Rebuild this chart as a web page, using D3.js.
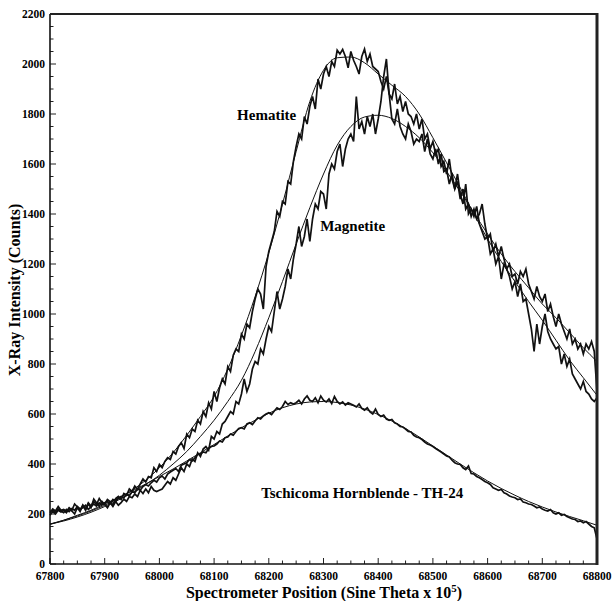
<!DOCTYPE html>
<html><head><meta charset="utf-8">
<script src="https://cdn.jsdelivr.net/npm/d3@7"></script>
<style>body{margin:0;background:#fff}svg{display:block}</style>
</head><body><svg id="c" width="612" height="601"></svg>
<script>
// Spectrometer positions: measured data every 5 units, fitted curves every 25 units
const dataStart = 67800, dataStep = 5;
const fitStart = 67800, fitStep = 25;

const hematiteData = [
205,220,212,230,215, 218,210,225,215,240, 228,215,235,220,245, 232,250,238,262,245,
240,258,250,235,262, 270,258,282,275,300, 290,312,298,320,340, 328,350,345,385,370,
398,385,410,425,418, 450,440,470,485,462, 520,505,540,530,575, 560,610,590,645,620,
690,650,705,740,720, 790,770,835,860,850, 920,900,960,945,1010, 1060,1100,1080,1020,1190,
1250,1290,1330,1410,1390, 1450,1440,1530,1520,1610, 1670,1720,1700,1790,1760, 1830,1870,1820,1940,1900,
1960,1990,1950,2010,1990, 2055,2040,2058,2030,1985, 2050,2015,1990,1960,2030, 2060,2010,2040,1990,1980,
1970,1930,1900,1950,1880, 1860,1920,1840,1870,1810, 1850,1800,1790,1760,1800, 1740,1780,1700,1720,1660,
1690,1640,1660,1590,1610, 1560,1620,1540,1500,1560, 1480,1440,1520,1400,1420, 1390,1430,1360,1330,1300,
1310,1240,1260,1200,1230, 1140,1200,1180,1150,1100, 1130,1070,1120,1050,1060, 1000,940,850,960,880,
950,1000,930,900,880, 860,870,800,840,790, 820,760,740,720,700, 730,690,680,660,650,
665];

const magnetiteData = [
195,210,200,215,208, 215,205,222,212,200, 225,210,235,215,240, 225,260,245,232,250,
238,225,245,230,250, 235,245,260,250,270, 265,280,270,295,282, 300,285,310,295,290,
295,300,315,330,320, 345,335,360,385,370, 400,390,420,410,445, 430,460,470,455,510,
500,530,520,560,570, 590,610,600,650,640, 680,740,690,720,780, 810,800,860,840,900,
950,930,1010,1090,1020, 1060,1110,1180,1140,1220, 1280,1350,1270,1310,1380, 1290,1380,1440,1420,1490,
1480,1420,1560,1600,1580, 1650,1680,1590,1660,1700, 1720,1690,1870,1740,1770, 1720,1790,1750,1800,1720,
1780,1850,1950,2020,1880, 1780,1760,1820,1750,1720, 1700,1760,1730,1680,1700, 1690,1720,1650,1700,1640,
1620,1660,1600,1640,1570, 1580,1520,1560,1500,1530, 1460,1500,1420,1440,1390, 1420,1380,1400,1440,1360,
1300,1320,1250,1280,1230, 1270,1220,1180,1200,1150, 1160,1120,1170,1150,1180, 1120,1090,1060,1110,1070,
1050,1080,1010,1040,990, 950,1000,960,930,900, 940,880,900,860,880, 840,880,860,890,850,
690];

const hornblendeData = [
210,215,205,220,212, 205,218,210,222,215, 230,220,225,235,218, 228,240,232,245,238,
245,250,242,258,250, 262,270,265,280,272, 290,285,300,295,310, 318,312,325,335,328,
345,352,340,360,368, 375,382,370,395,400, 405,418,412,425,438, 440,448,445,462,470,
472,480,492,488,505, 508,520,515,530,542, 545,540,560,565,558, 572,585,580,592,600,
605,598,612,625,618, 630,650,638,645,640, 645,655,640,660,672, 655,650,665,645,672,
655,648,660,642,670, 650,640,648,636,645, 640,635,628,640,622, 615,625,608,600,620,
598,590,596,580,575, 578,565,560,550,548, 540,530,528,515,508, 505,498,488,480,476,
470,462,455,448,440, 432,428,415,405,400, 398,385,378,392,362, 360,350,345,338,330,
325,318,305,300,295, 298,285,280,272,268, 265,258,260,248,245, 240,238,232,225,228,
220,215,212,218,205, 200,205,195,198,190, 185,180,178,170,172, 165,170,160,150,145,
100];

const hematiteFit = [160,175,192,212,235,262,295,335,385,445,515,590,670,780,915,1070,1245,1440,1650,1850,
1975,2025,2028,2005,1960,1915,1870,1800,1705,1605,1505,1400,1300,1210,1130,1050,975,895,815,745,675];
const magnetiteFit = [160,172,188,207,230,256,285,318,355,400,450,510,575,650,735,850,985,1130,1280,1425,
1560,1675,1750,1788,1795,1782,1750,1705,1645,1570,1490,1405,1320,1240,1170,1105,1040,985,925,865,810];
const hornblendeFit = [158,175,195,215,240,265,292,320,350,380,412,445,478,512,545,575,603,625,640,648,
650,646,636,620,598,572,542,508,472,436,400,365,332,302,275,250,228,208,190,173,155];

const xTicks = [67800,67900,68000,68100,68200,68300,68400,68500,68600,68700,68800];
const yTicks = [0,200,400,600,800,1000,1200,1400,1600,1800,2000,2200];
const seriesLabels = ["Hematite","Magnetite","Tschicoma Hornblende - TH-24"];
const yTitle = "X-Ray Intensity (Counts)";
const xTitle = "Spectrometer Position (Sine Theta x 10";

const L = 50, R = 597, T = 14, B = 564;
const x = d3.scaleLinear().domain([67800, 68800]).range([L, R]);
const y = d3.scaleLinear().domain([0, 2200]).range([B, T]);

const svg = d3.select("#c");
const font = "'Liberation Serif','Times New Roman',serif";

const toPts = (arr, start, step) => arr.map((v, i) => [start + i * step, v]);
const dataLine = d3.line().x(d => x(d[0])).y(d => y(d[1])).curve(d3.curveLinear);
const fitLine = d3.line().x(d => x(d[0])).y(d => y(d[1])).curve(d3.curveMonotoneX);

const plot = svg.append("g");
[hornblendeFit, magnetiteFit, hematiteFit].forEach(f => {
  plot.append("path").attr("d", fitLine(toPts(f, fitStart, fitStep)))
    .attr("fill", "none").attr("stroke", "#111").attr("stroke-width", 1);
});
[hornblendeData, magnetiteData, hematiteData].forEach(dat => {
  plot.append("path").attr("d", dataLine(toPts(dat, dataStart, dataStep)))
    .attr("fill", "none").attr("stroke", "#111").attr("stroke-width", 1.7)
    .attr("stroke-linejoin", "miter");
});

// axes with inward ticks
const xMinor = d3.range(67800, 68801, 25);
const yMinor = d3.range(0, 2201, 50);
const ax = svg.append("g");
ax.selectAll(".xm").data(xMinor).join("line")
  .attr("x1", d => x(d)).attr("x2", d => x(d))
  .attr("y1", B).attr("y2", d => B - (d % 100 === 0 ? 6 : 3.5))
  .attr("stroke", "#222").attr("stroke-width", 1);
ax.selectAll(".ym").data(yMinor).join("line")
  .attr("y1", d => y(d)).attr("y2", d => y(d))
  .attr("x1", L).attr("x2", d => L + (d % 200 === 0 ? 6 : 3.5))
  .attr("stroke", "#222").attr("stroke-width", 1);

// frame
svg.append("line").attr("x1", L).attr("x2", L).attr("y1", T).attr("y2", B).attr("stroke", "#111").attr("stroke-width", 1.6);
svg.append("line").attr("x1", L).attr("x2", R).attr("y1", B).attr("y2", B).attr("stroke", "#111").attr("stroke-width", 1.6);
svg.append("line").attr("x1", L).attr("x2", R).attr("y1", T).attr("y2", T).attr("stroke", "#222").attr("stroke-width", 1.8);
svg.append("line").attr("x1", R).attr("x2", R).attr("y1", T - 1).attr("y2", B + 1).attr("stroke", "#222").attr("stroke-width", 3);

// tick labels
ax.selectAll(".xl").data(xTicks).join("text")
  .attr("x", d => x(d)).attr("y", 580).attr("text-anchor", "middle")
  .attr("font-family", font).attr("font-weight", "bold").attr("font-size", 11.5)
  .text(d => d);
ax.selectAll(".yl").data(yTicks).join("text")
  .attr("x", 45).attr("y", d => y(d) + 4).attr("text-anchor", "end")
  .attr("font-family", font).attr("font-weight", "bold").attr("font-size", 11.5)
  .text(d => d);

// axis titles
svg.append("text").attr("transform", "translate(20,290) rotate(-90)")
  .attr("text-anchor", "middle").attr("font-family", font).attr("font-weight", "bold")
  .attr("font-size", 16).text(yTitle);
const xt = svg.append("text").attr("x", 324).attr("y", 598).attr("text-anchor", "middle")
  .attr("font-family", font).attr("font-weight", "bold").attr("font-size", 16);
xt.append("tspan").text(xTitle);
xt.append("tspan").attr("dy", -6).attr("font-size", 11).text("5");
xt.append("tspan").attr("dy", 6).text(")");

// series annotations
const ann = [[68142, 1776], [68294, 1332], [68186, 264]];
svg.selectAll(".ann").data(seriesLabels).join("text")
  .attr("x", (d, i) => x(ann[i][0])).attr("y", (d, i) => y(ann[i][1]))
  .attr("font-family", font).attr("font-weight", "bold").attr("font-size", 15)
  .text(d => d);
</script></body></html>
